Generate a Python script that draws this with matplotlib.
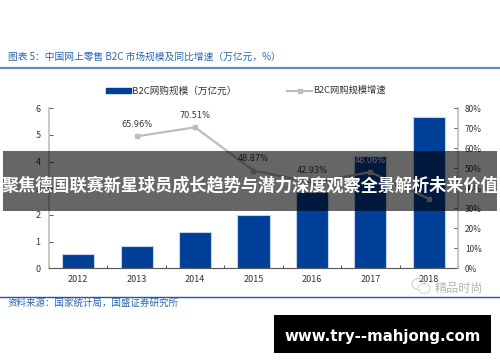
import matplotlib
matplotlib.use('Agg')
import matplotlib.pyplot as plt
from matplotlib.patches import Rectangle, Ellipse
from matplotlib.lines import Line2D

plt.rcParams['font.family'] = ['Noto Sans CJK SC', 'DejaVu Sans']

years = ['2012', '2013', '2014', '2015', '2016', '2017', '2018']
scale = [0.52, 0.82, 1.37, 2.01, 2.87, 4.22, 5.68]
growth = [65.96, 70.51, 48.87, 42.93, 48.06, 34.8]
growth_years = [1, 2, 3, 4, 5, 6]
growth_labels = ['65.96%', '70.51%', '48.87%', '42.93%', '48.06%']
left_ticks = [0, 1, 2, 3, 4, 5, 6]
right_ticks = [0, 10, 20, 30, 40, 50, 60, 70, 80]
title = '图表 5：中国网上零售 B2C 市场规模及同比增速（万亿元，%）'
source = '资料来源：国家统计局，国盛证券研究所'
banner = '聚焦德国联赛新星球员成长趋势与潜力深度观察全景解析未来价值'
site = 'www.try--mahjong.com'
legend_bar = 'B2C网购规模（万亿元）'
legend_line = 'B2C网购规模增速'
watermark = '精品时尚'

W, H = 500, 362
fig = plt.figure(figsize=(W / 100, H / 100), dpi=100)
bg = fig.add_axes([0, 0, 1, 1])
bg.set_xlim(0, W)
bg.set_ylim(H, 0)
bg.axis('off')

ax = fig.add_axes([49 / W, 1 - 268.3 / H, 409 / W, 160 / H])
ax.patch.set_alpha(0)
bar_blue = '#003f98'
gray = '#bdbdbd'
ax.bar(range(7), scale, width=0.55, color=bar_blue, edgecolor='#c5d3ea', linewidth=0.8, zorder=2)
ax.set_xlim(-0.5, 6.5)
ax.set_ylim(0, 6)
ax.set_yticks(left_ticks)
ax.set_xticks(range(7))
ax.set_xticklabels(years)
ax.set_xticks([i + 0.5 for i in range(-1, 7)], minor=True)
ax.tick_params(axis='x', which='major', length=0, labelsize=6.5, pad=5, labelcolor='#333333')
ax.tick_params(axis='x', which='minor', length=2, width=0.7, direction='in', color='#555555')
ax.tick_params(axis='y', length=3, width=0.7, direction='in', labelsize=6.5, pad=6, color='#555555', labelcolor='#333333')
ax.spines['top'].set_visible(False)
ax.spines['left'].set_color(gray)
ax.spines['left'].set_linewidth(1.2)
ax.spines['right'].set_visible(False)
ax.spines['bottom'].set_color('#555555')
ax.spines['bottom'].set_linewidth(0.8)

ax2 = ax.twinx()
ax2.patch.set_alpha(0)
ax2.set_ylim(0, 80)
ax2.set_yticks(right_ticks)
ax2.set_yticklabels([f'{v}%' for v in right_ticks])
ax2.tick_params(axis='y', length=3, width=0.7, direction='in', labelsize=6.0, pad=5, color='#555555', labelcolor='#333333')
for s in ['top', 'left', 'bottom']:
    ax2.spines[s].set_visible(False)
ax2.spines['right'].set_color(gray)
ax2.spines['right'].set_linewidth(1.2)
ax2.plot(growth_years, growth, color=gray, linewidth=1.6, marker='s', markersize=3.2, zorder=3)
for x, y, t in zip(growth_years, growth, growth_labels):
    on_bar = t == '48.06%'
    ax2.annotate(t, (x, y), xytext=(0, 5.5), textcoords='offset points', ha='center', va='bottom',
                 fontsize=5.9, color='#ffffff' if on_bar else '#333333', family='DejaVu Sans', zorder=4)

# header, footer
bg.text(8, 57, title, fontsize=7.0, color='#2a66ad', va='center', ha='left')
bg.plot([0, 500], [68, 68], color='#5f8cc4', lw=1.6)
bg.plot([0, 500], [297, 297], color='#1f56a5', lw=1.0)
bg.text(8, 303.5, source, fontsize=6.8, color='#2a66ad', va='center', ha='left')

# legend
bg.add_patch(Rectangle((106, 88), 25, 5, color=bar_blue))
bg.text(132, 90.5, legend_bar, fontsize=6.9, color='#333333', va='center', ha='left')
bg.add_line(Line2D([287, 312], [90.5, 90.5], color=gray, lw=1.6))
bg.plot([299.5], [90.5], marker='s', color=gray, markersize=3.2)
bg.text(313, 90.5, legend_line, fontsize=6.7, color='#333333', va='center', ha='left')

# watermark
top = fig.add_axes([0, 0, 1, 1])
top.set_xlim(0, W)
top.set_ylim(H, 0)
top.axis('off')
top.patch.set_alpha(0)
top.add_patch(Ellipse((418.5, 284), 13, 11, fill=False, ec='#cfcfcf', lw=0.8))
top.add_patch(Ellipse((424, 288.5), 12, 10, fc='white', ec='#cfcfcf', lw=0.8, alpha=0.8))
top.text(459, 288, watermark, fontsize=8.7, color='#b5b5b5', ha='center', va='center')

# banner
top.add_patch(Rectangle((3, 151), 494, 60, color='black', alpha=0.6, lw=0))
top.text(250, 185, banner, fontsize=12.35, color='white', fontweight='bold', ha='center', va='center')

# site stamp
top.add_patch(Rectangle((274, 315), 217, 38, color='black', lw=0))
top.text(382.5, 336, site, fontsize=10.8, color='white', fontweight='bold', family='DejaVu Sans', ha='center', va='center')

fig.savefig('out.png', dpi=100)
